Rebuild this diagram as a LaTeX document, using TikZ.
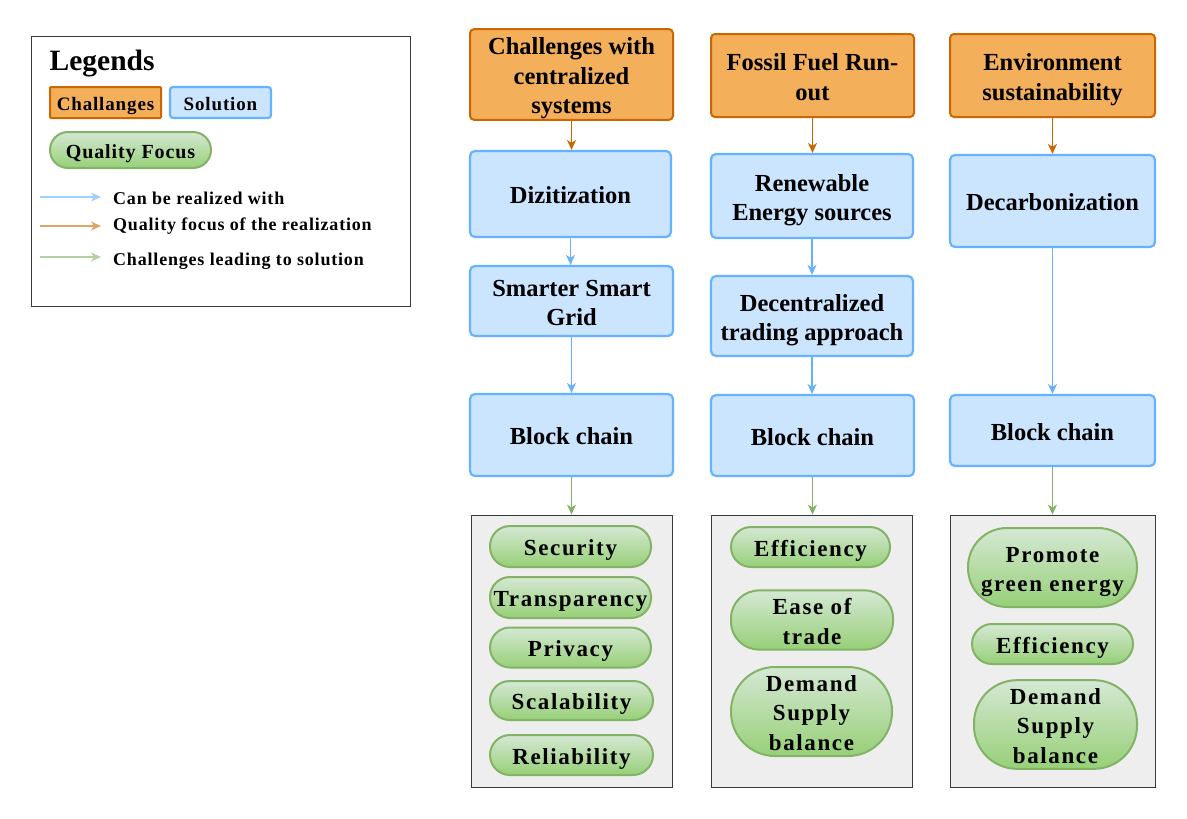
\documentclass[tikz,border=0pt]{standalone}
\usepackage{fontspec}
\setmainfont{Liberation Serif}
\newfontfamily\spacedA{Liberation Serif}[LetterSpace=7]
\newfontfamily\spacedB{Liberation Serif}[LetterSpace=4.5]
\usetikzlibrary{arrows.meta}
\newcommand\stt{\rule{0pt}{1.05em}}
\newcommand\stb{\rule[-0.24em]{0pt}{0.24em}}
\definecolor{orfill}{HTML}{F4AF5A}
\definecolor{orline}{HTML}{CC6600}
\definecolor{blfill}{HTML}{CCE5FF}
\definecolor{blline}{HTML}{66B2FF}
\definecolor{gntop}{HTML}{D5E8D4}
\definecolor{gnbot}{HTML}{97D077}
\definecolor{gnline}{HTML}{82B366}
\definecolor{gyfill}{HTML}{EEEEEE}
\definecolor{gyline}{HTML}{36393D}
\tikzset{
  chal/.style={draw=orline, fill=orfill, line width=2pt, rounded corners=4pt, inner sep=0pt, align=center,
    font=\fontsize{24.5}{29.5}\selectfont\bfseries},
  sol/.style={draw=blline, fill=blfill, line width=2.2pt, rounded corners=5pt, inner sep=0pt, align=center,
    font=\fontsize{24.5}{29.5}\selectfont\bfseries},
  pill/.style={draw=gnline, top color=gntop, bottom color=gnbot, line width=2pt, inner sep=0pt, align=center,
    font=\spacedA\fontsize{23}{29.5}\selectfont\bfseries},
  graybox/.style={draw=gyline, fill=gyfill, line width=0.9pt, inner sep=0pt},
  tipA/.style={-{Stealth[length=10pt,width=9pt,inset=3pt]}},
  barr/.style={tipA, draw=blline!85, line width=1.1pt, color=blline},
  oarr/.style={tipA, draw=orline, line width=1.1pt, color=orline},
  garr/.style={tipA, draw=gnline, line width=1.1pt, color=gnline},
  legtext/.style={anchor=base west, inner sep=0pt, font=\spacedB\fontsize{18}{22}\selectfont\bfseries},
}
\begin{document}
\begin{tikzpicture}[x=1pt,y=-1pt]
\useasboundingbox[fill=white] (0,0) rectangle (1187,819);

% ---------- Legend ----------
\node[draw=gyline, line width=0.9pt, minimum width=379, minimum height=270, inner sep=0pt] (legend) at (220.5,171) {};
\node[anchor=base west, inner sep=0pt, font=\fontsize{29.5}{34}\selectfont\bfseries] (legtitle) at (49.5,70) {Legends};
\node[chal, minimum width=111, minimum height=31, rounded corners=1pt, font=\spacedB\fontsize{19}{23}\selectfont\bfseries] (legchal) at (105.5,102.5) {\stt\stb Challanges};
\node[sol, minimum width=101, minimum height=31, rounded corners=3pt, font=\spacedB\fontsize{19}{23}\selectfont\bfseries] (legsol) at (220.5,102.5) {\stt\stb Solution};
\node[pill, minimum width=161, minimum height=36, rounded corners=18pt, font=\spacedB\fontsize{20}{24}\selectfont\bfseries] (legqual) at (130.5,150) {\stt\stb Quality Focus};

\coordinate (lb1) at (40,197);  \coordinate (lb2) at (101,197);
\coordinate (lo1) at (40,226);  \coordinate (lo2) at (101,226);
\coordinate (lg1) at (40,257);  \coordinate (lg2) at (101,257);
\draw[barr, draw=blline!60] (lb1) -- (lb2);
\draw[oarr, draw=orline!60] (lo1) -- (lo2);
\draw[garr, draw=gnline!60] (lg1) -- (lg2);
\node[legtext] (lt1) at (113,204) {Can be realized with};
\node[legtext] (lt2) at (113,230) {Quality focus of the realization};
\node[legtext] (lt3) at (113,265) {Challenges leading to solution};

% ---------- Column 1 ----------
\node[chal, minimum width=203, minimum height=85] (o1) at (571.5,74.5) {\stt Challenges with\\centralized\\\stb systems};
\node[sol, minimum width=201, minimum height=86] (b1a) at (570.5,194) {\stt\stb Dizitization};
\node[sol, minimum width=203, minimum height=70] (b1b) at (571.5,301) {\stt Smarter Smart\\\stb Grid};
\node[sol, minimum width=203, minimum height=82] (b1c) at (571.5,435) {\stt\stb Block chain};
\node[graybox, minimum width=201, minimum height=272] (g1) at (571.5,651) {};
\node[pill, minimum width=161, minimum height=41, rounded corners=20pt] (p1a) at (570.5,546.5) {\stt\stb Security};
\node[pill, minimum width=161, minimum height=41, rounded corners=20pt] (p1b) at (570.5,597.5) {\stt\stb Transparency};
\node[pill, minimum width=161, minimum height=40, rounded corners=20pt] (p1c) at (570.5,647.5) {\stt\stb Privacy};
\node[pill, minimum width=163, minimum height=39, rounded corners=19.5pt] (p1d) at (571.5,700.5) {\stt\stb Scalability};
\node[pill, minimum width=163, minimum height=40, rounded corners=20pt] (p1e) at (571.5,755) {\stt\stb Reliability};

\draw[oarr] (o1.south) -- (o1.south |- b1a.north);
\draw[barr] (b1a.south) -- (b1a.south |- b1b.north);
\draw[barr] (b1b.south) -- (b1b.south |- b1c.north);
\draw[garr] (b1c.south) -- (b1c.south |- g1.north);

% ---------- Column 2 ----------
\node[chal, minimum width=203, minimum height=83] (o2) at (812.5,75.5) {\stt Fossil Fuel Run-\\\stb out};
\node[sol, minimum width=202, minimum height=84] (b2a) at (812,196) {\stt Renewable\\\stb Energy sources};
\node[sol, minimum width=202, minimum height=80] (b2b) at (812,316) {\stt Decentralized\\\stb trading approach};
\node[sol, minimum width=203, minimum height=81] (b2c) at (812.5,435.5) {\stt\stb Block chain};
\node[graybox, minimum width=201, minimum height=272] (g2) at (811.5,651) {};
\node[pill, minimum width=159, minimum height=40, rounded corners=20pt] (p2a) at (810.5,547) {\stt\stb Efficiency};
\node[pill, minimum width=162, minimum height=56, rounded corners=28pt] (p2b) at (812,620) {\stt Ease of\\\stb trade};
\node[pill, minimum width=161, minimum height=89, rounded corners=44pt] (p2c) at (811.5,711.5) {\stt Demand\\Supply\\\stb balance};

\draw[oarr] (o2.south) -- (o2.south |- b2a.north);
\draw[barr] (b2a.south) -- (b2a.south |- b2b.north);
\draw[barr] (b2b.south) -- (b2b.south |- b2c.north);
\draw[garr] (b2c.south) -- (b2c.south |- g2.north);

% ---------- Column 3 ----------
\node[chal, minimum width=205, minimum height=83] (o3) at (1052.5,75.5) {\stt Environment\\\stb sustainability};
\node[sol, minimum width=205, minimum height=92] (b3a) at (1052.5,201) {\stt\stb Decarbonization};
\node[sol, minimum width=205, minimum height=71] (b3b) at (1052.5,430.5) {\stt\stb Block chain};
\node[graybox, minimum width=205, minimum height=272] (g3) at (1052.5,651) {};
\node[pill, minimum width=169, minimum height=79, rounded corners=39pt] (p3a) at (1052.5,567.5) {\stt Promote\\\stb green energy};
\node[pill, minimum width=161, minimum height=40, rounded corners=20pt] (p3b) at (1052.5,644) {\stt\stb Efficiency};
\node[pill, minimum width=163, minimum height=87, rounded corners=43pt] (p3c) at (1055.5,724.5) {\stt Demand\\Supply\\\stb balance};

\draw[oarr] (o3.south) -- (o3.south |- b3a.north);
\draw[barr] (b3a.south) -- (b3a.south |- b3b.north);
\draw[garr] (b3b.south) -- (b3b.south |- g3.north);
\end{tikzpicture}
\end{document}
